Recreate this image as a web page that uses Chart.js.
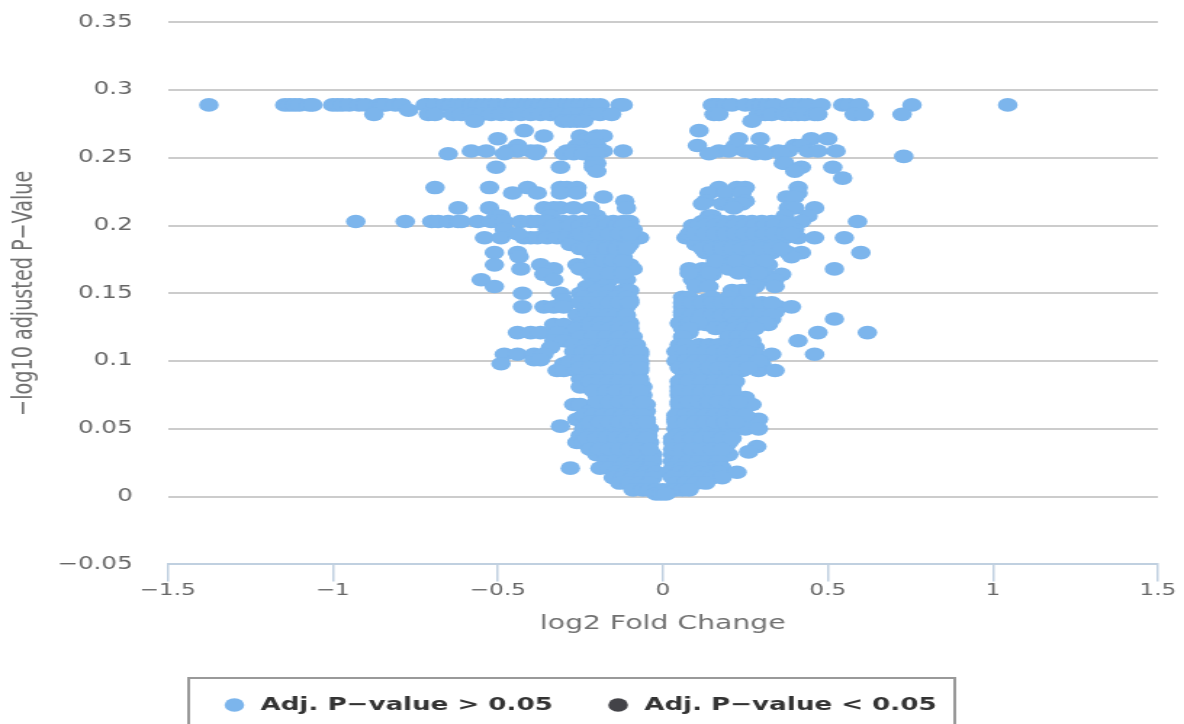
<!DOCTYPE html>
<html>
<head>
<meta charset="utf-8">
<title>Volcano plot</title>
<script src="https://cdn.jsdelivr.net/npm/chart.js@4"></script>
<style>
  html, body { margin: 0; padding: 0; background: #fff; overflow: hidden; }
  #wrap { width: 816px; height: 724px; transform: scale(1.451, 1); transform-origin: 0 0; }
</style>
</head>
<body>
<div id="wrap"><canvas id="myChart" width="816" height="724"></canvas></div>
<script>
// Tick labels and legend names
const xTicks = ["−1.5", "−1", "−0.5", "0", "0.5", "1", "1.5"];
const yTicks = ["−0.05", "0", "0.05", "0.1", "0.15", "0.2", "0.25", "0.3", "0.35"];
const seriesNames = ["Adj. P−value > 0.05", "Adj. P−value < 0.05"];

// -log10 adjusted p-value of each row of points
const pRows = [
  0.289, 0.285, 0.282, 0.277, 0.27, 0.266, 0.264, 0.259, 0.255, 0.253,
  0.251, 0.246, 0.243, 0.24, 0.235, 0.228, 0.224, 0.221, 0.218, 0.216,
  0.213, 0.207, 0.203, 0.197, 0.191, 0.186, 0.18, 0.177, 0.171, 0.168,
  0.164, 0.16, 0.155, 0.15, 0.145, 0.14, 0.136, 0.131, 0.127, 0.121,
  0.115, 0.11, 0.105, 0.101, 0.098, 0.093, 0.087, 0.081, 0.075, 0.073,
  0.068, 0.063, 0.057, 0.052, 0.05, 0.045, 0.04, 0.037, 0.033, 0.031,
  0.026, 0.021, 0.018, 0.014, 0.01, 0.005, 0.002,
  0.2, 0.194, 0.183, 0.174, 0.165, 0.152, 0.147, 0.143, 0.134, 0.128,
  0.124, 0.118, 0.112, 0.107, 0.1, 0.095, 0.085, 0.078, 0.07, 0.06,
  0.055, 0.043, 0.035
];

// log2 fold change of the points on each of those rows
const foldRows = [
  [-1.375, -1.145, -1.13, -1.115, -1.1, -1.07, -1.06, -1.0, -0.985, -0.97, -0.95, -0.92, -0.9, -0.86, -0.85, -0.84, -0.81, -0.79, -0.72, -0.71, -0.69, -0.66, -0.64, -0.62, -0.6, -0.58, -0.56, -0.54, -0.52, -0.5, -0.47, -0.45, -0.43, -0.41, -0.39, -0.37, -0.35, -0.33, -0.31, -0.29, -0.27, -0.25, -0.23, -0.21, -0.19, -0.13, -0.12, 0.15, 0.16, 0.17, 0.19, 0.21, 0.25, 0.28, 0.3, 0.32, 0.34, 0.385, 0.4, 0.42, 0.44, 0.48, 0.545, 0.565, 0.595, 0.755, 1.045],
  [-0.77],
  [-0.875, -0.71, -0.69, -0.635, -0.61, -0.58, -0.55, -0.52, -0.49, -0.46, -0.43, -0.4, -0.37, -0.34, -0.31, -0.28, -0.25, -0.22, -0.19, -0.155, 0.155, 0.17, 0.29, 0.31, 0.33, 0.37, 0.39, 0.41, 0.43, 0.46, 0.47, 0.58, 0.61, 0.725],
  [-0.57, -0.3, -0.28, -0.26, -0.24, 0.27],
  [-0.42, 0.11],
  [-0.36, -0.25, -0.2, -0.18],
  [-0.5, -0.23, -0.21, 0.23, 0.295, 0.45, 0.5],
  [-0.44, -0.26, -0.2, 0.105, 0.4, 0.42, 0.22],
  [-0.58, -0.535, -0.47, -0.44, -0.4, -0.38, -0.29, -0.27, -0.24, -0.21, -0.18, -0.12, 0.17, 0.2, 0.25, 0.27, 0.3, 0.35, 0.38, 0.44, 0.47, 0.525],
  [-0.65, -0.48, -0.385, -0.3, -0.27, -0.24, -0.2, 0.14, 0.28, 0.31, 0.36],
  [0.73],
  [-0.21, -0.2, 0.365, 0.37],
  [-0.505, -0.31, -0.21, 0.42, 0.515],
  [-0.2, 0.4],
  [0.545],
  [-0.69, -0.525, -0.41, -0.31, -0.29, -0.26, 0.17, 0.225, 0.25, 0.41],
  [-0.455, -0.38, -0.31, -0.26, 0.14, 0.19, 0.24, 0.41],
  [-0.18, 0.375, 0.4],
  [-0.115, 0.13, 0.25],
  [0.12, 0.18, 0.2, 0.22, 0.24],
  [-0.62, -0.525, -0.36, -0.33, -0.31, -0.27, -0.22, -0.11, 0.215, 0.38, 0.4, 0.46],
  [-0.505, -0.49, -0.34, -0.2, 0.14, 0.15, 0.37, 0.44],
  [-0.93, -0.78, -0.7, -0.68, -0.65, -0.62, -0.61, -0.56, -0.52, -0.5, -0.48, -0.43, -0.4, -0.38, -0.35, -0.3, -0.27, -0.24, -0.21, -0.18, -0.15, -0.12, -0.1, 0.12, 0.15, 0.18, 0.21, 0.24, 0.27, 0.3, 0.33, 0.36, 0.42, 0.59],
  [-0.48, -0.35, -0.3, -0.26, -0.22, -0.19, -0.16, -0.13, -0.09, 0.09, 0.12, 0.15, 0.18, 0.21, 0.24, 0.27, 0.3, 0.33, 0.36, 0.4],
  [-0.54, -0.49, -0.42, -0.4, -0.38, -0.35, -0.32, -0.29, -0.26, -0.23, -0.2, -0.17, -0.14, -0.11, -0.07, 0.07, 0.1, 0.13, 0.16, 0.19, 0.22, 0.25, 0.28, 0.31, 0.34, 0.37, 0.41, 0.46, 0.55],
  [-0.28, -0.22, -0.19, -0.16, -0.13, -0.1, 0.1, 0.14, 0.18, 0.22, 0.26, 0.3, 0.34],
  [-0.51, -0.44, -0.22, -0.19, -0.16, -0.13, 0.13, 0.17, 0.21, 0.25, 0.29, 0.33, 0.38, 0.42, 0.6],
  [-0.435, -0.2, -0.12, 0.2, 0.25, 0.39],
  [-0.51, -0.37, -0.26, -0.23, -0.2, -0.17, -0.14, -0.1, 0.19, 0.25, 0.28, 0.32],
  [-0.43, -0.33, -0.25, -0.14, -0.09, 0.08, 0.12, 0.14, 0.2, 0.25, 0.3, 0.52],
  [-0.36, -0.22, -0.17, -0.13, 0.09, 0.12, 0.15, 0.27, 0.31, 0.36],
  [-0.55, -0.33, -0.2, -0.16, -0.11, 0.09, 0.13, 0.28, 0.3, 0.34],
  [-0.51, -0.23, -0.18, 0.1, 0.14, 0.28, 0.34],
  [-0.425, -0.31, -0.25, -0.21, 0.21, 0.23],
  [-0.3, -0.2, -0.16, -0.12, -0.1, 0.13, 0.15, 0.23, 0.26],
  [-0.425, -0.36, -0.33, -0.3, -0.23, -0.2, -0.17, -0.14, -0.11, 0.06, 0.09, 0.14, 0.18, 0.21, 0.24, 0.27, 0.3, 0.33, 0.35, 0.39],
  [-0.24, -0.21, -0.18, -0.15, -0.12, 0.06, 0.1, 0.14, 0.19, 0.22, 0.25, 0.28, 0.31, 0.34],
  [-0.23, -0.2, -0.17, -0.14, -0.11, 0.06, 0.1, 0.13, 0.17, 0.24, 0.27, 0.3, 0.33, 0.52],
  [-0.33, -0.3, -0.2, -0.16, -0.12, 0.1, 0.13, 0.25, 0.28, 0.32],
  [-0.44, -0.4, -0.37, -0.32, -0.27, -0.22, -0.18, -0.14, -0.1, 0.08, 0.2, 0.23, 0.26, 0.47, 0.62],
  [-0.33, -0.3, -0.24, -0.2, -0.15, -0.1, 0.2, 0.27, 0.41],
  [-0.34, -0.2, -0.15, -0.1, 0.14, 0.17, 0.24, 0.28],
  [-0.48, -0.44, -0.39, -0.36, -0.22, -0.19, -0.16, -0.13, -0.1, -0.07, 0.07, 0.1, 0.13, 0.16, 0.19, 0.22, 0.25, 0.28, 0.33, 0.46],
  [-0.39, -0.37, -0.24, -0.2, -0.16, -0.12, -0.08, 0.05, 0.09, 0.13, 0.17, 0.21],
  [-0.49, -0.3, -0.27, -0.23, -0.19, -0.15, -0.11, -0.07, 0.05, 0.08, 0.11, 0.14, 0.18, 0.22, 0.25, 0.3],
  [-0.32, -0.3, -0.26, -0.22, -0.19, -0.16, -0.13, -0.1, -0.07, 0.06, 0.09, 0.12, 0.15, 0.18, 0.21, 0.24, 0.29, 0.34],
  [-0.25, -0.24, -0.19, -0.16, -0.13, -0.1, -0.07, 0.06, 0.1, 0.2],
  [-0.25, -0.18, -0.15, -0.12, -0.09, -0.06, 0.05, 0.07, 0.14, 0.17, 0.21],
  [-0.2, -0.17, -0.14, -0.11, -0.08, -0.06, 0.05, 0.08, 0.11, 0.15, 0.2],
  [0.25],
  [-0.27, -0.25, -0.2, -0.17, -0.14, -0.11, -0.08, -0.05, 0.05, 0.08, 0.11, 0.14, 0.17, 0.2, 0.24, 0.27],
  [-0.22, -0.19, -0.16, -0.13, -0.1, -0.07, -0.05, 0.05, 0.08, 0.11, 0.14, 0.17, 0.2, 0.22],
  [-0.26, -0.23, -0.2, -0.17, -0.14, -0.11, -0.08, -0.05, 0.04, 0.07, 0.1, 0.13, 0.16, 0.19, 0.22, 0.27, 0.29],
  [-0.31],
  [-0.24, -0.21, -0.18, -0.15, -0.12, -0.09, -0.06, -0.04, 0.04, 0.07, 0.1, 0.13, 0.16, 0.19, 0.22, 0.25, 0.29],
  [-0.25, -0.22, -0.19, -0.16, -0.13, -0.1, -0.07, -0.045, 0.04, 0.07, 0.1, 0.13, 0.16, 0.19],
  [-0.26, -0.24, -0.21, -0.18, -0.15, -0.12, -0.09, -0.06, -0.04, 0.03, 0.06, 0.09, 0.12, 0.15, 0.18, 0.2],
  [-0.2, -0.17, -0.14, -0.11, -0.08, -0.05, 0.04, 0.07, 0.1, 0.13, 0.16, 0.19, 0.285],
  [0.26],
  [-0.2, -0.17, -0.14, -0.11, -0.08, -0.05, -0.03, 0.03, 0.06, 0.09, 0.12, 0.15, 0.18, 0.2],
  [-0.17, -0.14, -0.11, -0.08, -0.05, -0.03, 0.03, 0.05, 0.08, 0.11, 0.14, 0.17],
  [-0.28, -0.19, -0.16, -0.13, -0.1, -0.07, -0.04, 0.03, 0.06, 0.09, 0.12, 0.16, 0.18],
  [-0.14, -0.11, -0.08, -0.05, -0.02, 0.02, 0.05, 0.08, 0.11, 0.14, 0.17, 0.225],
  [-0.15, -0.12, -0.09, -0.06, -0.03, 0.03, 0.06, 0.09, 0.12, 0.15, 0.18],
  [-0.13, -0.1, -0.07, -0.04, 0.04, 0.07, 0.1, 0.13],
  [-0.09, -0.06, -0.04, -0.02, 0, 0.02, 0.04, 0.06, 0.08],
  [-0.02, -0.005, 0.01],
  [-0.33, -0.28, -0.25, -0.22, -0.2, -0.17, -0.14, -0.12, 0.09, 0.11, 0.13, 0.16, 0.19, 0.22, 0.25, 0.28, 0.31, 0.34, 0.38],
  [-0.44, -0.25, -0.22, -0.19, -0.16, -0.13, -0.1, 0.08, 0.1, 0.13, 0.16, 0.19, 0.22, 0.25, 0.28, 0.31, 0.34, 0.37, 0.39],
  [-0.25, -0.23, -0.2, -0.17, -0.14, -0.11, 0.12, 0.15, 0.18, 0.21, 0.24, 0.27, 0.3, 0.33, 0.36],
  [-0.21, -0.18, -0.15, -0.12, 0.16, 0.22, 0.27, 0.31],
  [-0.2, -0.16, -0.12, 0.08, 0.14, 0.23, 0.29],
  [-0.2, -0.16, -0.12, -0.1, 0.21, 0.24, 0.26],
  [-0.24, -0.2, -0.17, -0.14, -0.11, 0.06, 0.08, 0.15, 0.2],
  [-0.25, -0.22, -0.19, -0.16, -0.13, -0.1, 0.06, 0.09, 0.12, 0.15, 0.18, 0.21, 0.24, 0.27, 0.3, 0.33],
  [-0.26, -0.23, -0.2, -0.17, -0.14, -0.11, 0.06, 0.09, 0.12, 0.15, 0.18, 0.21, 0.24, 0.27, 0.3, 0.33],
  [-0.25, -0.22, -0.19, -0.16, -0.13, -0.1, 0.05, 0.08, 0.11, 0.22, 0.25, 0.28, 0.31],
  [-0.26, -0.22, -0.19, -0.16, -0.13, -0.1, 0.06, 0.08, 0.16, 0.19, 0.22, 0.25, 0.28],
  [-0.25, -0.21, -0.17, -0.13, -0.09, 0.06, 0.2, 0.23, 0.26],
  [-0.27, -0.23, -0.2, -0.17, -0.14, -0.11, -0.08, 0.05, 0.07, 0.11, 0.14, 0.17, 0.2, 0.23, 0.26],
  [-0.27, -0.24, -0.21, -0.18, -0.15, -0.12, -0.09, -0.07, 0.04, 0.07, 0.1, 0.13, 0.16, 0.19, 0.22, 0.25],
  [-0.28, -0.25, -0.22, -0.19, -0.16, -0.13, -0.1, -0.07, 0.04, 0.07, 0.1, 0.13, 0.16, 0.19, 0.22, 0.25, 0.29],
  [-0.25, -0.22, -0.19, -0.16, -0.13, -0.1, -0.07, 0.05, 0.08, 0.11, 0.14, 0.17, 0.2, 0.23, 0.26],
  [-0.22, -0.19, -0.16, -0.13, -0.1, -0.07, 0.05, 0.08, 0.12, 0.16, 0.19, 0.22],
  [-0.21, -0.17, -0.14, -0.1, -0.07, 0.05, 0.09, 0.12, 0.15, 0.18, 0.21],
  [-0.2, -0.16, -0.13, -0.1, -0.06, 0.05, 0.08, 0.11, 0.14, 0.17, 0.2, 0.23],
  [-0.24, -0.21, -0.18, -0.15, -0.12, -0.09, -0.06, 0.04, 0.07, 0.1, 0.13, 0.16, 0.19, 0.22, 0.25],
  [-0.22, -0.19, -0.16, -0.13, -0.1, -0.07, -0.05, 0.04, 0.07, 0.1, 0.13, 0.16, 0.19, 0.22],
  [-0.23, -0.2, -0.17, -0.14, -0.11, -0.08, -0.05, 0.03, 0.06, 0.09, 0.12, 0.15, 0.18, 0.21],
  [-0.22, -0.19, -0.16, -0.13, -0.1, -0.07, -0.04, 0.03, 0.06, 0.09, 0.12, 0.15, 0.18]
];

// No gene passes the cut-off in this picture, the series only shows in the legend
const significantPoints = [];

const notSignificantPoints = [];
pRows.forEach((p, i) => {
  foldRows[i].forEach((fold) => notSignificantPoints.push({ x: fold, y: p }));
});

// Box around the legend, cut off by the bottom of the page like the original
const legendBox = {
  id: "legendBox",
  afterDraw(chart) {
    const c = chart.ctx;
    c.save();
    c.strokeStyle = "#999999";
    c.lineWidth = 2;
    c.strokeRect(130, 678, 528, 80);
    c.restore();
  },
};

const ctx = document.getElementById("myChart").getContext("2d");
const myChart = new Chart(ctx, {
  type: "scatter",
  data: {
    datasets: [
      {
        label: seriesNames[0],
        data: notSignificantPoints,
        backgroundColor: "#7cb5ec",
        borderColor: "#7cb5ec",
        borderWidth: 0,
        pointRadius: 6.8,
        pointHoverRadius: 6.8,
      },
      {
        label: seriesNames[1],
        data: significantPoints,
        backgroundColor: "#434348",
        borderColor: "#434348",
        borderWidth: 0,
        pointRadius: 6.8,
      },
    ],
  },
  plugins: [legendBox],
  options: {
    responsive: false,
    animation: false,
    layout: { padding: { top: 0, right: 18, left: 0, bottom: 0 } },
    plugins: {
      tooltip: { enabled: false },
      legend: {
        position: "bottom",
        labels: {
          usePointStyle: true,
          pointStyle: "circle",
          boxWidth: 18,
          boxHeight: 9.6,
          padding: 36,
          color: "#333333",
          font: { family: "DejaVu Sans", size: 18, weight: "bold" },
        },
      },
    },
    scales: {
      x: {
        type: "linear",
        min: -1.5,
        max: 1.5,
        ticks: {
          stepSize: 0.5,
          color: "#666666",
          padding: 0,
          maxRotation: 0,
          font: { family: "DejaVu Sans", size: 16 },
          callback: (v) => xTicks[Math.round((v + 1.5) * 2)],
        },
        grid: { display: true, drawOnChartArea: false, drawTicks: true, tickLength: 17, color: "#c0d0e0", lineWidth: 1.5 },
        border: { color: "#c0d0e0", width: 2 },
        title: {
          display: true,
          text: "log2 Fold Change",
          color: "#707070",
          font: { family: "DejaVu Sans", size: 19.5 },
          padding: { top: 12, bottom: 24 },
        },
      },
      y: {
        type: "linear",
        min: -0.05,
        max: 0.35,
        afterFit(scale) { scale.width = 115.5; },
        ticks: {
          stepSize: 0.05,
          color: "#666666",
          padding: 12,
          font: { family: "DejaVu Sans", size: 17 },
          callback: (v) => yTicks[Math.round((v + 0.05) * 20)],
        },
        grid: { color: "#cccccc", lineWidth: 2, drawTicks: true, tickLength: 12, tickColor: "transparent" },
        border: { display: false },
        title: {
          display: true,
          text: "−log10 adjusted P−Value",
          color: "#707070",
          font: { family: "DejaVu Sans", size: 19.2 },
          padding: { top: 5, bottom: 4 },
        },
      },
    },
  },
});
</script>
</body>
</html>
